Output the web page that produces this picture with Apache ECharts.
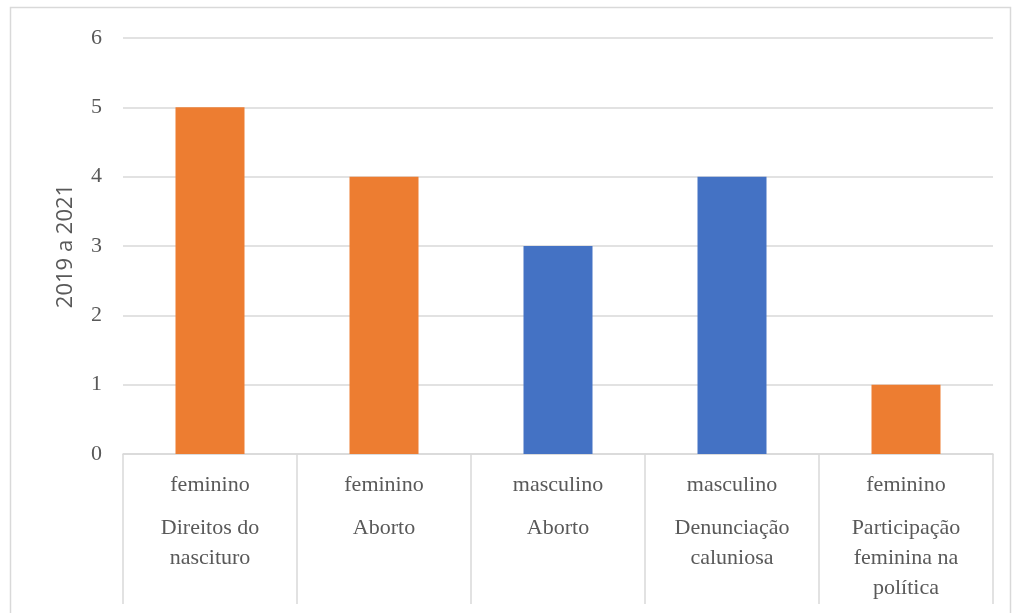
<!DOCTYPE html>
<html><head><meta charset="utf-8">
<script src="https://cdn.jsdelivr.net/npm/echarts@6/dist/echarts.min.js"></script>
<style>html,body{margin:0;padding:0;background:#fff}#c{width:1017px;height:613px}</style>
</head><body><div id="c"></div>
<script>
var genders = ['feminino','feminino','masculino','masculino','feminino'];
var topics = ['Direitos do\nnascituro','Aborto','Aborto','Denunciação\ncaluniosa','Participação\nfeminina na\npolítica'];
var values = [5,4,3,4,1];
var barColors = ['#ED7D31','#ED7D31','#4472C4','#4472C4','#ED7D31'];
var yTitle = '2019 a 2021';

var cats = genders.map(function(g,i){return i;});
var chart = echarts.init(document.getElementById('c'));
chart.setOption({
  animation:false,
  graphic:[{type:'rect',shape:{x:10.5,y:7.5,width:1000,height:640},style:{fill:'none',stroke:'#d9d9d9',lineWidth:1.5},silent:true}],
  grid:{left:123,right:24,top:38,bottom:159},
  xAxis:{type:'category',data:cats,
    axisLine:{lineStyle:{color:'#d9d9d9',width:1.5}},
    axisTick:{show:true,length:150,interval:0,lineStyle:{color:'#d9d9d9',width:1.5}},
    axisLabel:{interval:0,margin:3,color:'#595959',fontFamily:'Liberation Serif',fontSize:22,
      formatter:function(v,i){
        var t = topics[i].split('\n').map(function(s){return '{b|'+s+'}';}).join('\n');
        return '{a|'+genders[i]+'}\n'+t;
      },
      rich:{a:{lineHeight:56,fontFamily:'Liberation Serif',fontSize:22,color:'#595959'},
            b:{lineHeight:30,fontFamily:'Liberation Serif',fontSize:22,color:'#595959'}}
    }
  },
  yAxis:{type:'value',min:0,max:6,interval:1,
    name:yTitle,nameLocation:'middle',nameRotate:90,nameGap:46,
    nameTextStyle:{fontFamily:'Open Sans',fontSize:22,color:'#595959'},
    axisLine:{show:false},axisTick:{show:false},
    axisLabel:{margin:21,color:'#595959',fontFamily:'Liberation Serif',fontSize:22},
    splitLine:{lineStyle:{color:'#d9d9d9',width:1.5}}
  },
  series:[{type:'bar',barWidth:69,
    data:values.map(function(v,i){return {value:v,itemStyle:{color:barColors[i]}};})
  }]
});
</script></body></html>
